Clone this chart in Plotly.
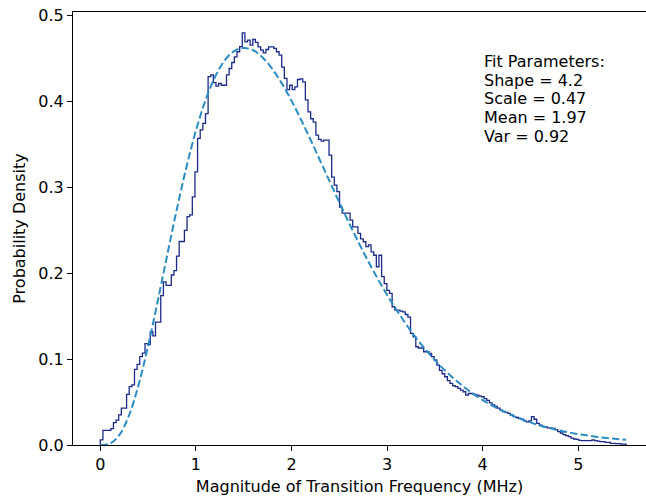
import numpy as np
import plotly.graph_objects as go

# Histogram (density) of transition-frequency magnitudes: 200 bins over [0, 5.5]
bin_start = 0.0
bin_end = 5.5
hist_density = [
    0.006, 0.017, 0.017, 0.017, 0.019, 0.026, 0.029, 0.035, 0.043, 0.043,
    0.059, 0.068, 0.070, 0.088, 0.094, 0.103, 0.107, 0.118, 0.117, 0.132,
    0.127, 0.143, 0.143, 0.174, 0.190, 0.186, 0.186, 0.198, 0.203, 0.220,
    0.237, 0.237, 0.250, 0.266, 0.268, 0.289, 0.318, 0.357, 0.367, 0.3745,
    0.386, 0.429, 0.431, 0.422, 0.418, 0.421, 0.419, 0.419, 0.431, 0.4385,
    0.4455, 0.452, 0.458, 0.464, 0.480, 0.4695, 0.4715, 0.4657, 0.4723, 0.469,
    0.4637, 0.460, 0.4567, 0.4606, 0.4637, 0.4637, 0.462, 0.458, 0.454, 0.440,
    0.427, 0.414, 0.419, 0.414, 0.417, 0.4257, 0.4265, 0.423, 0.402, 0.388,
    0.380, 0.376, 0.361, 0.356, 0.354, 0.355, 0.355, 0.3376, 0.312, 0.3027,
    0.295, 0.277, 0.270, 0.270, 0.270, 0.262, 0.254, 0.254, 0.2464, 0.240,
    0.2367, 0.231, 0.233, 0.225, 0.221, 0.2076, 0.221, 0.196, 0.188, 0.180,
    0.1766, 0.161, 0.157, 0.157, 0.156, 0.155, 0.152, 0.149, 0.130, 0.126,
    0.1144, 0.113, 0.113, 0.1086, 0.1086, 0.1067, 0.103, 0.099, 0.093, 0.087,
    0.083, 0.0795, 0.075, 0.0718, 0.069, 0.068, 0.066, 0.064, 0.062, 0.058,
    0.060, 0.060, 0.059, 0.058, 0.057, 0.0562, 0.054, 0.052, 0.049, 0.0466,
    0.045, 0.043, 0.0407, 0.039, 0.038, 0.0368, 0.035, 0.033, 0.032, 0.031,
    0.030, 0.028, 0.027, 0.028, 0.033, 0.030, 0.0252, 0.023, 0.0213, 0.021,
    0.020, 0.0195, 0.0194, 0.018, 0.0155, 0.014, 0.012, 0.011, 0.0097, 0.008,
    0.007, 0.0066, 0.0055, 0.005, 0.005, 0.005, 0.005, 0.0058, 0.005, 0.0045,
    0.004, 0.004, 0.003, 0.003, 0.002, 0.002, 0.0015, 0.0015, 0.001, 0.001,
]

# Fitted gamma curve (Shape = 4.2, Scale = 0.47), read at 0.1 steps
fit_x = [round(0.1 * i, 1) for i in range(56)]
fit_y = [
    0.0, 0.0016, 0.0117, 0.0344, 0.0699, 0.1154, 0.1672, 0.2214, 0.2743, 0.3233,
    0.3661, 0.4014, 0.4287, 0.4477, 0.4588, 0.4624, 0.4597, 0.4511, 0.4378, 0.4209,
    0.4009, 0.3788, 0.3553, 0.3311, 0.3067, 0.2826, 0.2589, 0.2362, 0.2144, 0.1940,
    0.1748, 0.1570, 0.1404, 0.1252, 0.1114, 0.0988, 0.0874, 0.0771, 0.0679, 0.0596,
    0.0523, 0.0458, 0.0400, 0.0348, 0.0303, 0.0263, 0.0228, 0.0197, 0.0171, 0.0147,
    0.0127, 0.0110, 0.0094, 0.0081, 0.0069, 0.0060,
]

fit_text = ["Fit Parameters:", "Shape = 4.2", "Scale = 0.47", "Mean = 1.97", "Var = 0.92"]

edges = np.linspace(bin_start, bin_end, len(hist_density) + 1)
step_x = [edges[0]] + list(edges[:-1]) + [edges[-1]]
step_y = [0.0] + list(hist_density) + [0.0]

FONT = "DejaVu Sans, sans-serif"
FS = 16

fig = go.Figure()
fig.add_trace(go.Scatter(
    x=step_x, y=step_y, mode="lines", line_shape="hv",
    line=dict(color="#1c2a8a", width=1.3), showlegend=False, hoverinfo="skip",
))
fig.add_trace(go.Scatter(
    x=fit_x, y=fit_y, mode="lines", line_shape="spline",
    line=dict(color="#2b8cc4", width=2, dash="7.4px,3.2px"), showlegend=False, hoverinfo="skip",
))

# text block: one annotation per line for matplotlib-like line spacing
plot_top_px, plot_bottom_px = 12, 445
first_center_px, line_step_px = 61.7, 18.6
for k, line in enumerate(fit_text):
    cy = first_center_px + k * line_step_px
    fig.add_annotation(
        xref="paper", yref="paper", x=(481.5 - 73) / (646 - 73),
        y=(plot_bottom_px - cy) / (plot_bottom_px - plot_top_px),
        xanchor="left", yanchor="middle", text=line, align="left", showarrow=False,
        font=dict(family=FONT, size=FS, color="black"),
    )

fig.update_layout(
    width=646, height=496,
    margin=dict(l=73, r=0, t=12, b=51),
    paper_bgcolor="white", plot_bgcolor="white",
    font=dict(family=FONT, size=FS, color="black"),
    xaxis=dict(
        range=[-0.2856, 5.708], tickvals=[0, 1, 2, 3, 4, 5], ticktext=["0", "1", "2", "3", "4", "5"],
        showgrid=False, zeroline=False, showline=True, mirror=True, linecolor="black", linewidth=1,
        ticks="outside", ticklen=5, tickwidth=1, tickcolor="black",
        tickfont=dict(family=FONT, size=FS),
        title=dict(text="Magnitude of Transition Frequency (MHz)", standoff=9,
                   font=dict(family=FONT, size=FS)),
    ),
    yaxis=dict(
        range=[0, 0.5043], tickvals=[0, 0.1, 0.2, 0.3, 0.4, 0.5],
        ticktext=["0.0", "0.1", "0.2", "0.3", "0.4", "0.5"],
        showgrid=False, zeroline=False, showline=True, mirror=False, linecolor="black", linewidth=1,
        ticks="outside", ticklen=5, tickwidth=1, tickcolor="black",
        tickfont=dict(family=FONT, size=FS),
        title=dict(text="Probability Density", standoff=8, font=dict(family=FONT, size=FS)),
    ),
)

fig.write_html("out.html")
